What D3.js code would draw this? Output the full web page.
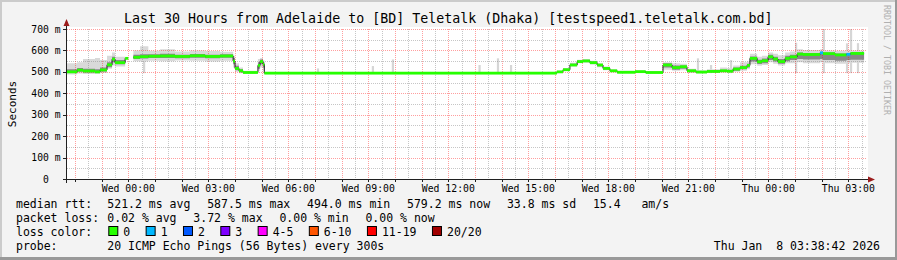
<!DOCTYPE html>
<html><head><meta charset="utf-8">
<script src="https://cdn.jsdelivr.net/npm/d3@7"></script>
<style>
body{margin:0;background:#f3f3f3}
svg{display:block}
text{font-family:"DejaVu Sans Mono",monospace;white-space:pre}
</style>
</head><body>
<svg id="c" width="897" height="260"></svg>
<script>
// ---------------- data ----------------
const title = "Last 30 Hours from Adelaide to [BD] Teletalk (Dhaka) [testspeed1.teletalk.com.bd]";
const yAxisTitle = "Seconds";
const watermark = "RRDTOOL / TOBI OETIKER";
const timeStart = -2.3;   // hours relative to Wed 00:00
const timeEnd = 27.7;
const dataEnd = 27.59;

// segment start times (hours relative to Wed 00:00)
const hours = [-2.30,-1.92,-1.70,-1.25,-1.06,-0.80,-0.61,-0.50,-0.12,0.00,
  0.19,0.44,0.75,1.19,1.75,2.31,2.88,3.44,3.93,4.00,
  4.15,4.30,4.86,4.94,5.05,5.10,16.07,16.30,16.56,16.83,
  17.05,17.31,17.58,17.80,18.06,18.33,19.00,19.40,20.05,20.39,
  20.69,20.95,21.29,21.70,22.19,22.45,22.68,22.94,23.20,23.31,
  23.58,23.76,23.99,24.18,24.36,24.63,24.81,25.08,25.30,25.94,
  26.05,26.50,26.93,27.08];
// median rtt (ms), null = no data
const median = [500,508,504,500,509,533,559,543,563,null,
  568,571,573,574,572,575,572,574,550,516,
  505,497,530,548,535,494,500,510,532,548,
  551,543,532,516,505,498,501,497,532,520,
  524,505,499,502,505,503,513,520,530,563,
  547,552,570,560,548,563,570,583,581,589,
  585,579,582,586];
// lost pings out of 20
const lossCount = [0,0,0,0,0,0,0,0,0,0,
  0,0,0,0,0,0,0,0,0,0,
  0,0,0,0,0,0,0,0,0,0,
  0,0,0,0,0,0,0,0,0,0,
  0,0,0,0,0,0,0,0,0,0,
  0,0,0,0,0,0,0,0,0,1,
  0,0,1,0];
// outer smoke (light)
const smokeLo = [488,492,490,490,495,515,530,525,540,null,
  550,548,552,550,553,552,548,552,520,500,
  494,493,505,520,505,494,496,505,525,540,
  543,534,522,508,498,494,495,494,510,505,
  508,495,494,495,497,496,500,505,512,535,
  528,532,545,538,530,540,540,545,540,545,
  540,538,540,542];
const smokeHi = [540,545,560,565,555,575,590,570,585,null,
  600,620,598,605,595,600,597,594,575,540,
  520,505,560,565,555,494,505,518,542,556,
  558,552,540,525,512,505,507,503,545,540,
  538,515,508,512,520,518,530,545,548,585,
  570,575,590,585,578,590,595,605,602,605,
  600,598,600,600];
// inner smoke (dark)
const coreLo = [495,500,497,496,502,522,545,535,552,null,
  560,562,565,565,563,566,563,566,535,508,
  498,495,515,535,520,494,498,506,527,543,
  546,538,526,511,500,495,497,495,520,510,
  515,499,496,498,500,499,505,512,520,548,
  537,540,555,548,538,550,555,560,558,560,
  555,552,555,556];
const coreHi = [512,518,515,512,520,545,570,555,572,null,
  580,582,582,585,580,583,580,582,565,528,
  512,500,545,558,545,494,503,514,538,553,
  556,548,537,521,509,502,504,500,540,530,
  530,510,503,506,510,508,520,528,538,572,
  556,562,580,570,560,575,580,590,588,592,
  590,586,588,590];
// isolated single-ping outliers
const spikeHours = [0.55,7.07,9.13,9.88,13.13,13.82,14.31,21.32,21.81,22.56,25.00,26.04,26.91,27.06,27.32];
const spikeTops  = [617,516,527,558,532,563,532,563,532,555,636,700,633,700,634];

const yTicks = [0,100,200,300,400,500,600,700];
const yTickLabels = ["0  ","100 m","200 m","300 m","400 m","500 m","600 m","700 m"];
const xTickHours = [0,3,6,9,12,15,18,21,24,27];
const xTickLabels = ["Wed 00:00","Wed 03:00","Wed 06:00","Wed 09:00","Wed 12:00","Wed 15:00","Wed 18:00","Wed 21:00","Thu 00:00","Thu 03:00"];

const lossBuckets = ["0","1","2","3","4-5","6-10","11-19","20/20"];
const lossColors = ["#26ff00","#00b8ff","#0059ff","#7e00ff","#ff00ff","#ff5500","#ff0000","#a10000"];

const rttStats = ["521.2 ms avg","587.5 ms max","494.0 ms min","579.2 ms now","33.8 ms sd","15.4   am/s"];
const lossStats = ["0.02 % avg","3.72 % max","0.00 % min","0.00 % now"];
const probeText = "20 ICMP Echo Pings (56 Bytes) every 300s";
const stamp = "Thu Jan  8 03:38:42 2026";

// ---------------- drawing ----------------
const W = 897, H = 260;
const svg = d3.select("#c");
const x = d3.scaleLinear().domain([timeStart, timeEnd]).range([67, 867]);
const y = d3.scaleLinear().domain([0, 700]).range([179, 29]);
const px = v => Math.round(x(v)) + 0.5;
const py = v => Math.round(y(v)) + 0.5;

svg.append("rect").attr("width", W).attr("height", H).attr("fill", "#f3f3f3");
// 3d frame
svg.append("rect").attr("x",0).attr("y",0).attr("width",W).attr("height",2).attr("fill","#cbcbcb");
svg.append("rect").attr("x",0).attr("y",0).attr("width",2).attr("height",H).attr("fill","#cbcbcb");
svg.append("rect").attr("x",0).attr("y",H-3).attr("width",W).attr("height",3).attr("fill","#999999");
svg.append("rect").attr("x",W-2).attr("y",0).attr("width",2).attr("height",H).attr("fill","#999999");

// canvas
svg.append("rect").attr("x",67).attr("y",27).attr("width",801).attr("height",152).attr("fill","#ffffff");

// build points (step after)
const pts = hours.map((h,i)=>({h, next: i<hours.length-1 ? hours[i+1] : dataEnd,
  m: median[i], lo: smokeLo[i], hi: smokeHi[i], clo: coreLo[i], chi: coreHi[i], loss: lossCount[i]}));
const stepPts = [...pts, {...pts[pts.length-1], h: dataEnd}];

const area = (lo, hi) => d3.area().curve(d3.curveStepAfter)
  .defined(d => d.m != null)
  .x(d => x(d.h)).y0(d => y(d[lo])).y1(d => y(d[hi]));

// spikes
svg.append("g").selectAll("rect").data(spikeHours).join("rect")
  .attr("x", (h)=>x(h)).attr("width", (h)=>x(h+5/60)-x(h))
  .attr("y", (h,i)=>y(spikeTops[i])).attr("height", (h,i)=>y(494)-y(spikeTops[i]))
  .attr("fill","#d6d6d6");

svg.append("path").datum(stepPts).attr("d", area("lo","hi")).attr("fill","#d9d9d9");
svg.append("path").datum(stepPts).attr("d", area("clo","chi")).attr("fill","#888888");

// grid (drawn over smoke, semi transparent)
const g = svg.append("g");
const minorY = d3.range(50, 700, 100);
g.selectAll(".gy").data(minorY).join("line")
  .attr("x1",67).attr("x2",867).attr("y1",py).attr("y2",py)
  .attr("stroke","rgba(128,128,128,0.45)").attr("stroke-dasharray","1,1");
const halfHours = d3.range(-1.5, 27.7, 1);
g.selectAll(".gx").data(halfHours).join("line")
  .attr("y1",29).attr("y2",179).attr("x1",px).attr("x2",px)
  .attr("stroke","rgba(128,128,128,0.45)").attr("stroke-dasharray","1,1");
const majorY = yTicks.slice(1);
g.selectAll(".my").data(majorY).join("line")
  .attr("x1",67).attr("x2",867).attr("y1",py).attr("y2",py)
  .attr("stroke","rgba(255,0,0,0.38)").attr("stroke-dasharray","1,1");
const fullHours = d3.range(-2, 27.7, 1);
g.selectAll(".mx").data(fullHours).join("line")
  .attr("y1",29).attr("y2",179).attr("x1",px).attr("x2",px)
  .attr("stroke","rgba(255,0,0,0.38)").attr("stroke-dasharray","1,1");

// median black line
const medLine = d3.line().curve(d3.curveStepAfter).defined(d=>d.m!=null)
  .x(d=>x(d.h)).y(d=>y(d.m));
svg.append("path").datum(stepPts).attr("d", medLine).attr("fill","none")
  .attr("stroke","#202020").attr("stroke-width",1);

// loss-coloured median band
const lossBucketIndex = n => n===0?0:n===1?1:n===2?2:n===3?3:n<=5?4:n<=10?5:n<=19?6:7;
svg.append("g").selectAll("rect").data(pts.filter(d=>d.m!=null)).join("rect")
  .attr("x", d=>x(d.h)).attr("width", d=>x(d.next)-x(d.h))
  .attr("y", d=>y(d.m)-1.4).attr("height",2.8)
  .attr("fill", d=>lossColors[lossBucketIndex(d.loss)]);

// axes
const axisColor = "#202020";
svg.append("line").attr("x1",63).attr("x2",869).attr("y1",179.5).attr("y2",179.5).attr("stroke",axisColor);
svg.append("line").attr("x1",66.5).attr("x2",66.5).attr("y1",183).attr("y2",25).attr("stroke",axisColor);
svg.append("path").attr("d","M868,176.5L875,179.5L868,182.5Z").attr("fill","#9b1c1c");
svg.append("path").attr("d","M63.5,26L66.5,19L69.5,26Z").attr("fill","#9b1c1c");
// ticks
svg.append("g").selectAll("line").data(fullHours).join("line")
  .attr("x1",px).attr("x2",px).attr("y1",179).attr("y2",182).attr("stroke",axisColor);
svg.append("g").selectAll("line").data(yTicks).join("line")
  .attr("x1",63).attr("x2",66).attr("y1",py).attr("y2",py).attr("stroke",axisColor);

// axis labels
svg.append("g").selectAll("text").data(yTicks).join("text")
  .attr("x",60.5).attr("y",d=>y(d)+3.5).attr("text-anchor","end")
  .attr("font-size","9.7px").text((d,i)=>yTickLabels[i]);
svg.append("g").selectAll("text").data(xTickHours).join("text")
  .attr("x",d=>x(d)).attr("y",192).attr("text-anchor","middle")
  .attr("font-size","9.8px").text((d,i)=>xTickLabels[i]);

// title etc
svg.append("text").attr("x",124).attr("y",23.3).attr("font-size","13.3px").text(title);
svg.append("text").attr("transform","translate(15.5,104) rotate(-90)").attr("text-anchor","middle")
  .attr("font-size","11px").text(yAxisTitle);
svg.append("text").attr("transform","translate(883.5,5) rotate(90)").attr("text-anchor","start")
  .attr("font-size","8.3px").attr("fill","#b0b0b0").text(watermark);

// legend
const LF = "11.5px", gap = 16.8, col0 = 16, col1 = 107.3;
function row(label, items, yb){
  svg.append("text").attr("x",col0).attr("y",yb).attr("font-size",LF).text(label);
  let cx = col1;
  items.forEach(s=>{
    const t = svg.append("text").attr("x",cx).attr("y",yb).attr("font-size",LF).text(s);
    cx += t.node().getComputedTextLength() + gap;
  });
}
row("median rtt:", rttStats, 207.5);
row("packet loss:", lossStats, 221.5);
// loss colours
svg.append("text").attr("x",col0).attr("y",235.5).attr("font-size",LF).text("loss color:");
let bx = 108.3;
lossBuckets.forEach((b,i)=>{
  svg.append("rect").attr("x",bx+0.5).attr("y",226.5).attr("width",9).attr("height",9)
    .attr("fill",lossColors[i]).attr("stroke","#000").attr("stroke-width",1);
  const t = svg.append("text").attr("x",bx+15).attr("y",235.5).attr("font-size",LF).text(b);
  bx = bx + 15 + t.node().getComputedTextLength() + 15.4;
});
svg.append("text").attr("x",col0).attr("y",249.5).attr("font-size",LF).text("probe:");
svg.append("text").attr("x",col1).attr("y",249.5).attr("font-size",LF).text(probeText);
svg.append("text").attr("x",880).attr("y",249.5).attr("text-anchor","end").attr("font-size",LF).text(stamp);
</script>
</body></html>
